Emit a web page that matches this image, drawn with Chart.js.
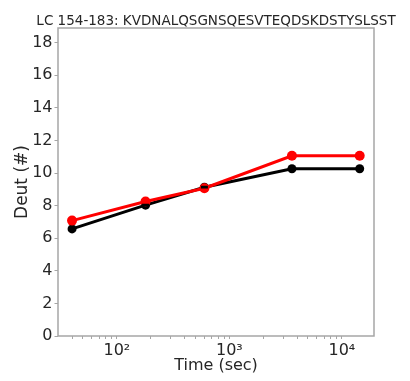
<!DOCTYPE html>
<html>
<head>
<meta charset="utf-8">
<script src="https://cdn.jsdelivr.net/npm/chart.js@4"></script>
<style>
  html, body { margin: 0; padding: 0; background: #fff; }
  #wrap { width: 410px; height: 381px; }
</style>
</head>
<body>
<div id="wrap"><canvas id="c" width="410" height="381"></canvas></div>
<script>
// exchange times (sec) and deuterium uptake
const times = [40, 180, 600, 3600, 14400];
const blackVals = [6.57, 8.03, 9.13, 10.26, 10.26];
const blackErr = [0.04, 0.04, 0.04, 0.05, 0.05];
const redVals = [7.08, 8.25, 9.07, 11.06, 11.06];
const redErr = [0.1, 0.08, 0.06, 0.12, 0.14];
const xTicks = [40, 50, 60, 70, 80, 90, 100, 200, 300, 400, 500, 600, 700, 800, 900,
                1000, 2000, 3000, 4000, 5000, 6000, 7000, 8000, 9000, 10000];
const xLabels = { 100: '10²', 1000: '10³', 10000: '10⁴' };
const yTicks = [0, 2, 4, 6, 8, 10, 12, 14, 16, 18];
const titleText = 'LC 154-183: KVDNALQSGNSQESVTEQDSKDSTYSLSST';

const FONT = 'DejaVu Sans';
const TXT = '#262626';

const toPts = (vals) => vals.map((v, i) => ({ x: times[i], y: v }));

// frame around the axes, error bars, and the title centred over the axes
const frameAndErrors = {
  id: 'frameAndErrors',
  afterDatasetsDraw(chart) {
    const { ctx, chartArea: a, scales } = chart;
    chart.data.datasets.forEach((ds) => {
      if (!ds.errors) return;
      ctx.save();
      ctx.strokeStyle = ds.borderColor;
      ctx.lineWidth = 1.5;
      ds.data.forEach((p, i) => {
        const x = scales.x.getPixelForValue(p.x);
        const y1 = scales.y.getPixelForValue(p.y - ds.errors[i]);
        const y2 = scales.y.getPixelForValue(p.y + ds.errors[i]);
        ctx.beginPath();
        ctx.moveTo(x, y1); ctx.lineTo(x, y2);
        ctx.moveTo(x - 3.5, y1); ctx.lineTo(x + 3.5, y1);
        ctx.moveTo(x - 3.5, y2); ctx.lineTo(x + 3.5, y2);
        ctx.stroke();
      });
      ctx.restore();
    });
    ctx.save();
    ctx.strokeStyle = '#a6a6a6';
    ctx.lineWidth = 1.5;
    ctx.strokeRect(a.left, a.top, a.right - a.left, a.bottom - a.top);
    ctx.fillStyle = TXT;
    ctx.font = '13.5px "' + FONT + '"';
    ctx.textAlign = 'center';
    ctx.textBaseline = 'alphabetic';
    ctx.fillText(titleText, (a.left + a.right) / 2, a.top - 3);
    ctx.restore();
  }
};

new Chart(document.getElementById('c'), {
  type: 'line',
  data: {
    datasets: [
      {
        label: 'red',
        data: toPts(redVals),
        errors: redErr,
        borderColor: '#ff0000',
        backgroundColor: '#ff0000',
        borderWidth: 3,
        pointRadius: 5,
        pointBorderWidth: 0,
        order: 0
      },
      {
        label: 'black',
        data: toPts(blackVals),
        errors: blackErr,
        borderColor: '#000000',
        backgroundColor: '#000000',
        borderWidth: 3,
        pointRadius: 4.5,
        pointBorderWidth: 0,
        order: 1
      }
    ]
  },
  options: {
    responsive: false,
    animation: false,
    layout: { padding: { left: 0, right: 36, top: 28, bottom: 0 } },
    plugins: {
      legend: { display: false },
      tooltip: { enabled: false },
      title: { display: false }
    },
    scales: {
      x: {
        type: 'logarithmic',
        min: 30,
        max: 19300,
        afterBuildTicks(scale) { scale.ticks = xTicks.map(v => ({ value: v })); },
        afterFit(scale) { scale.height = 45; },
        grid: { display: true, drawOnChartArea: false, tickLength: 3, tickColor: '#a6a6a6' },
        border: { display: false },
        ticks: {
          autoSkip: false,
          maxRotation: 0,
          padding: 2,
          color: TXT,
          font: { family: FONT, size: 16 },
          callback: (v) => xLabels[v] || ''
        },
        title: {
          display: true,
          text: 'Time (sec)',
          color: TXT,
          font: { family: FONT, size: 16 },
          padding: { top: 0, bottom: 6 }
        }
      },
      y: {
        min: 0,
        max: 18.9,
        afterBuildTicks(scale) { scale.ticks = yTicks.map(v => ({ value: v })); },
        afterFit(scale) { scale.width = 58; },
        grid: { display: true, drawOnChartArea: false, tickLength: 3.5, tickColor: '#a6a6a6' },
        border: { display: false },
        ticks: {
          padding: 2,
          color: TXT,
          font: { family: FONT, size: 16 }
        },
        title: {
          display: true,
          text: 'Deut (#)',
          color: TXT,
          font: { family: FONT, size: 17 },
          padding: { top: 12, bottom: 0 }
        }
      }
    }
  },
  plugins: [frameAndErrors]
});
</script>
</body>
</html>
